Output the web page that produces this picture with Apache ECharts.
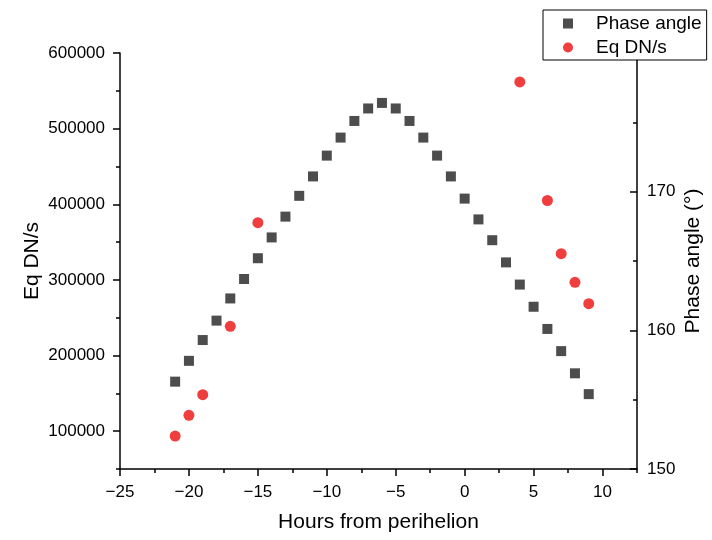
<!DOCTYPE html>
<html>
<head>
<meta charset="utf-8">
<script src="https://cdn.jsdelivr.net/npm/echarts@6/dist/echarts.min.js"></script>
<style>
  html, body { margin: 0; padding: 0; background: #fff; }
  #chart { width: 712px; height: 540px; }
</style>
</head>
<body>
<div id="chart"></div>
<script>
// Hours relative to perihelion for the phase-angle samples
const hours = [-21, -20, -19, -18, -17, -16, -15, -14, -13, -12, -11, -10, -9, -8, -7, -6,
               -5, -4, -3, -2, -1, 0, 1, 2, 3, 4, 5, 6, 7, 8, 9];
// Phase angle in degrees (right axis)
const phaseAngle = [156.3, 157.8, 159.3, 160.7, 162.3, 163.7, 165.2, 166.7, 168.2, 169.7,
                    171.1, 172.6, 173.9, 175.1, 176.0, 176.4, 176.0, 175.1, 173.9, 172.6,
                    171.1, 169.5, 168.0, 166.5, 164.9, 163.3, 161.7, 160.1, 158.5, 156.9, 155.4];
// Hours of the brightness measurements
const dnHours = [-21, -20, -19, -17, -15, 4, 6, 7, 8, 9];
// Equivalent DN/s (left axis)
const eqDN = [93600, 121000, 148200, 238700, 375600, 561700, 405000, 334700, 296800, 268500];

const FONT = '"Liberation Sans", Arial, Helvetica, sans-serif';
const INK = '#000';
const minus = v => String(v).replace('-', '\u2212');
const plain = v => String(v);

const chart = echarts.init(document.getElementById('chart'), null, { renderer: 'canvas' });

const baseLine = { show: true, onZero: false, lineStyle: { color: INK, width: 1.5 } };
const noLine = { show: false, onZero: false };

chart.setOption({
  animation: false,
  backgroundColor: '#fff',
  textStyle: { fontFamily: FONT },
  grid: { left: 120, right: 75, top: 53, bottom: 71, containLabel: false },
  legend: {
    orient: 'vertical',
    left: 543,
    top: 10,
    padding: [4, 5, 3, 20],
    itemGap: 5,
    itemWidth: 10,
    itemHeight: 10,
    align: 'left',
    backgroundColor: '#fff',
    borderColor: INK,
    borderWidth: 1,
    borderRadius: 0,
    textStyle: { fontFamily: FONT, fontSize: 19, color: INK, lineHeight: 19, padding: [0, 0, 0, 18] },
    data: [
      { name: 'Phase angle', icon: 'rect' },
      { name: 'Eq DN/s', icon: 'circle' }
    ]
  },
  xAxis: [
    {
      type: 'value',
      min: -25, max: 12.5, interval: 5,
      name: 'Hours from perihelion',
      nameLocation: 'middle',
      nameGap: 43,
      nameMoveOverlap: false,
      nameTextStyle: { fontFamily: FONT, fontSize: 21, color: INK },
      axisLine: baseLine,
      axisTick: { show: true, length: 7, lineStyle: { color: INK, width: 1.5 } },
      axisLabel: { fontFamily: FONT, fontSize: 17, color: INK, margin: 15, showMaxLabel: false, formatter: minus },
      splitLine: { show: false }
    },
    {
      // half-step minor ticks along the hour axis
      type: 'value',
      position: 'bottom',
      min: -25, max: 12.5, interval: 2.5,
      axisLine: noLine,
      axisTick: { show: true, length: 4, lineStyle: { color: INK, width: 1.5 } },
      axisLabel: { show: false },
      splitLine: { show: false }
    }
  ],
  yAxis: [
    {
      type: 'value',
      position: 'left',
      min: 50000, max: 600000,
      minInterval: 100000, maxInterval: 100000,
      name: 'Eq DN/s',
      nameLocation: 'middle',
      nameGap: 77,
      nameMoveOverlap: false,
      nameTextStyle: { fontFamily: FONT, fontSize: 21, color: INK },
      axisLine: baseLine,
      axisTick: { show: true, length: 7, lineStyle: { color: INK, width: 1.5 } },
      axisLabel: { fontFamily: FONT, fontSize: 17, color: INK, margin: 15, showMinLabel: false, formatter: plain },
      splitLine: { show: false }
    },
    {
      type: 'value',
      position: 'right',
      min: 150, max: 180, interval: 10,
      name: 'Phase angle (\u00B0)',
      nameLocation: 'middle',
      nameGap: 46,
      nameMoveOverlap: false,
      nameTextStyle: { fontFamily: FONT, fontSize: 21, color: INK },
      axisLine: baseLine,
      axisTick: { show: true, inside: true, length: 7, lineStyle: { color: INK, width: 1.5 } },
      minorTick: { show: true, splitNumber: 2, length: 4, lineStyle: { color: INK, width: 1.5 } },
      axisLabel: { fontFamily: FONT, fontSize: 17, color: INK, margin: 10, showMaxLabel: false, formatter: plain },
      splitLine: { show: false },
      minorSplitLine: { show: false }
    },
    {
      // half-step minor ticks along the DN/s axis
      type: 'value',
      position: 'left',
      min: 50000, max: 600000, interval: 50000,
      axisLine: noLine,
      axisTick: { show: true, length: 4, lineStyle: { color: INK, width: 1.5 } },
      axisLabel: { show: false },
      splitLine: { show: false }
    }
  ],
  series: [
    {
      name: 'Phase angle',
      type: 'scatter',
      xAxisIndex: 0,
      yAxisIndex: 1,
      symbol: 'rect',
      symbolSize: 10,
      itemStyle: { color: '#4d4d4d', opacity: 1 },
      data: hours.map((h, i) => [h, phaseAngle[i]])
    },
    {
      name: 'Eq DN/s',
      type: 'scatter',
      xAxisIndex: 0,
      yAxisIndex: 0,
      symbol: 'circle',
      symbolSize: 11,
      itemStyle: { color: '#f03e3e', opacity: 1 },
      data: dnHours.map((h, i) => [h, eqDN[i]])
    }
  ]
});
</script>
</body>
</html>
